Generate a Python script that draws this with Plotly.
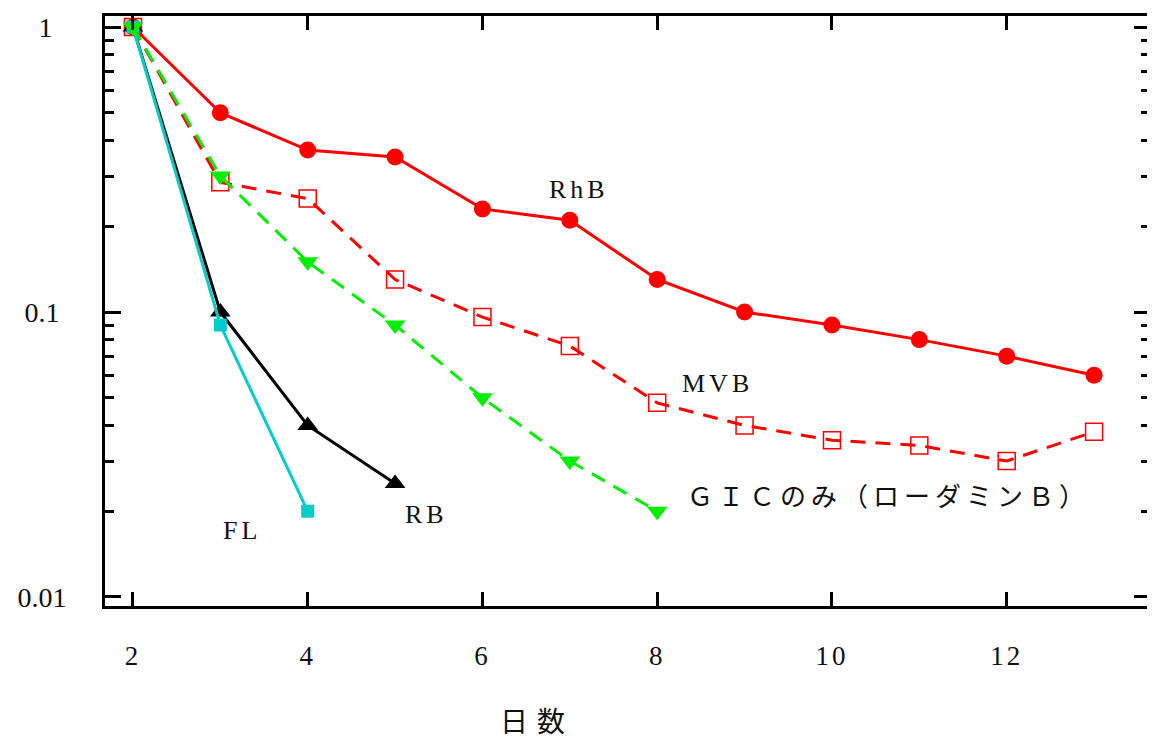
import plotly.graph_objects as go
import math

# ---- data ----
days_rhb = [2, 3, 4, 5, 6, 7, 8, 9, 10, 11, 12, 13]
rhb = [1.0, 0.50, 0.37, 0.35, 0.23, 0.21, 0.13, 0.10, 0.09, 0.08, 0.07, 0.06]

days_mvb = [2, 3, 4, 5, 6, 7, 8, 9, 10, 11, 12, 13]
mvb = [1.0, 0.285, 0.25, 0.13, 0.096, 0.076, 0.048, 0.040, 0.0355, 0.034, 0.030, 0.038]

days_gic = [2, 3, 4, 5, 6, 7, 8]
gic = [1.0, 0.30, 0.15, 0.09, 0.05, 0.03, 0.02]

days_rb = [2, 3, 4, 5]
rb = [1.0, 0.10, 0.04, 0.025]

days_fl = [2, 3, 4]
fl = [1.0, 0.09, 0.02]

x_ticks = [2, 4, 6, 8, 10, 12]
x_tick_text = ["2", "4", "6", "8", "10", "12"]
y_ticks = [0.01, 0.1, 1]
y_tick_text = ["0.01", "0.1", "1"]

# label positions (data coords: x, y)
labels = [
    ("RhB", 7.10, 0.27),
    ("MVB", 8.69, 0.056),
    ("ＧＩＣのみ（ローダミンＢ）", 8.32, 0.0224),
    ("FL", 3.25, 0.0171),
    ("RB", 5.36, 0.0195),
]

FONT = "Liberation Serif, Noto Sans CJK JP, serif"


def spaced(t, px):
    return '<span style="letter-spacing:%dpx">%s</span>' % (px, t)


# pad y tick labels so that they appear centred in their column
Y_PAD = {"0.01": "", "0.1": "\u00a0", "1": "\u00a0\u00a0"}

fig = go.Figure()

fig.add_trace(go.Scatter(x=days_rhb, y=rhb, mode="lines+markers",
                         line=dict(color="#ff0000", width=3),
                         marker=dict(symbol="circle", size=17, color="#ff0000")))
fig.add_trace(go.Scatter(x=days_mvb, y=mvb, mode="lines+markers",
                         line=dict(color="#ff0000", width=3, dash="15px,10px"),
                         marker=dict(symbol="square-open", size=17, color="#ff0000",
                                     line=dict(width=1.5, color="#ff0000"))))
fig.add_trace(go.Scatter(x=days_rb, y=rb, mode="lines+markers",
                         line=dict(color="#000000", width=3),
                         marker=dict(symbol="triangle-up", size=18, color="#000000")))
fig.add_trace(go.Scatter(x=days_fl, y=fl, mode="lines+markers",
                         line=dict(color="#00cccc", width=3),
                         marker=dict(symbol="square", size=13, color="#00cccc")))
fig.add_trace(go.Scatter(x=days_gic, y=gic, mode="lines+markers",
                         line=dict(color="#00ee00", width=3, dash="15px,10px"),
                         marker=dict(symbol="triangle-down", size=18, color="#00ee00")))

for text, lx, ly in labels:
    is_gic = text.startswith("Ｇ")
    fig.add_annotation(x=lx, y=math.log10(ly),
                       text=spaced(text, 5 if is_gic else 4), showarrow=False,
                       xanchor="left" if is_gic else "center", yanchor="middle",
                       font=dict(family=FONT, size=26, color="#111111"))

fig.add_annotation(x=0.413, y=-0.193, xref="paper", yref="paper",
                   text=spaced("日数", 9),
                   showarrow=False, xanchor="center", yanchor="middle",
                   font=dict(family="Noto Sans CJK JP", size=28, color="#111111"))

fig.update_layout(
    template="none",
    width=1147, height=741,
    margin=dict(l=97, r=5, t=8, b=143),
    paper_bgcolor="white", plot_bgcolor="white",
    showlegend=False,
    font=dict(family=FONT, size=27, color="#111111"),
)
fig.update_xaxes(range=[1.68, 13.64], tickvals=x_ticks,
                 ticktext=[spaced(t, 3) for t in x_tick_text],
                 ticks="inside", ticklen=14,
                 tickwidth=3, tickcolor="black", showline=True, linewidth=3,
                 linecolor="black", mirror="ticks", showgrid=False, zeroline=False,
                 automargin=False, ticklabelstandoff=24)
fig.update_yaxes(type="log", range=[-2.0316, 0.0386], tickvals=y_ticks,
                 ticktext=[t + Y_PAD[t] for t in y_tick_text],
                 tickfont=dict(size=28),
                 ticks="inside", ticklen=16, tickwidth=3,
                 tickcolor="black", showline=True, linewidth=3, linecolor="black",
                 mirror="ticks", showgrid=False, zeroline=False,
                 automargin=False, ticklabelstandoff=30,
                 minor=dict(dtick="D1", ticks="inside", ticklen=9, tickwidth=3,
                            tickcolor="black", showgrid=False))

fig.write_html("out.html")
